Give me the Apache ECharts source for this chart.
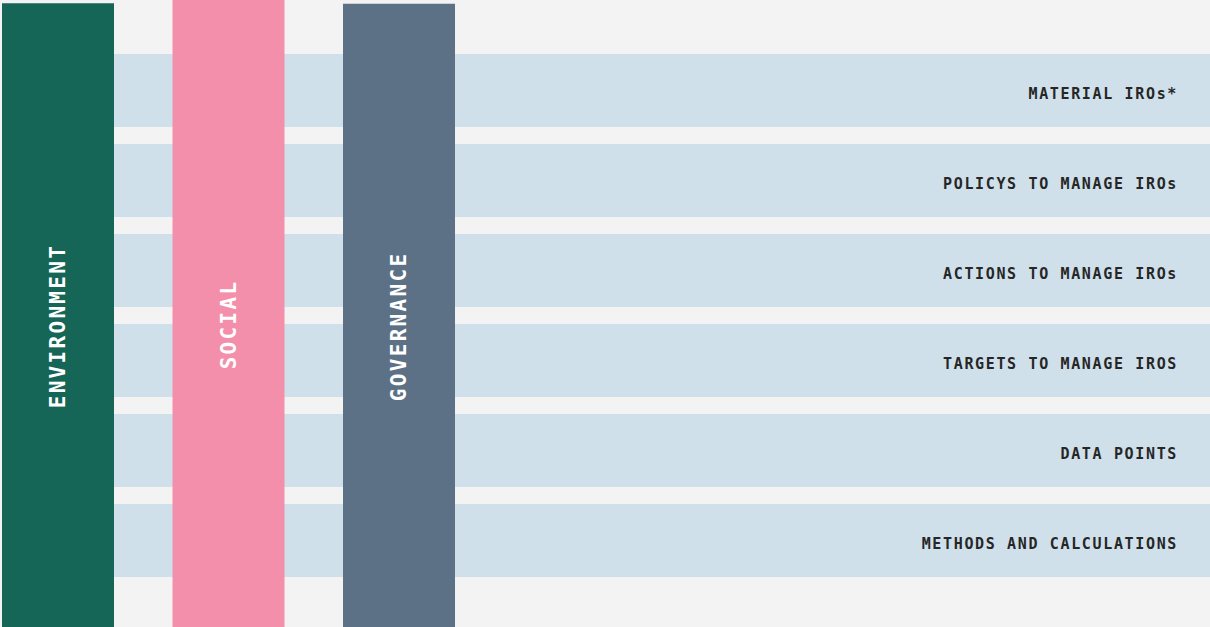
<!DOCTYPE html>
<html>
<head>
<meta charset="utf-8">
<script src="https://cdn.jsdelivr.net/npm/echarts@6/dist/echarts.min.js"></script>
<style>
  html, body { margin: 0; padding: 0; background: #f3f3f3; }
  #chart { width: 1210px; height: 627px; }
  /* wide tracking like the original typeface */
  #chart text { letter-spacing: 0.11em; }
</style>
</head>
<body>
<div id="chart"></div>
<script>
// horizontal rows (top to bottom)
const bandLabels = [
  'MATERIAL IROs*',
  'POLICYS TO MANAGE IROs',
  'ACTIONS TO MANAGE IROs',
  'TARGETS TO MANAGE IROS',
  'DATA POINTS',
  'METHODS AND CALCULATIONS'
];
const bandValues = [1, 1, 1, 1, 1, 1];

// vertical pillars (left to right)
const pillarNames = ['ENVIRONMENT', 'SOCIAL', 'GOVERNANCE'];
const pillarValues = [0.995, 1, 0.994];
const pillarColors = ['#166657', '#f48fab', '#5d7186'];

const mono = '"DejaVu Sans Mono", "Liberation Mono", monospace';

const chart = echarts.init(document.getElementById('chart'), null, {renderer: 'svg'});

chart.setOption({
  backgroundColor: '#f3f3f3',
  animation: false,
  grid: [
    {left: 114, right: 0, top: 45.5, height: 540},
    // pillar centres sit on the ticks (boundaryGap off)
    {left: 58, top: 0, width: 341, height: 627}
  ],
  xAxis: [
    {gridIndex: 0, type: 'value', min: 0, max: 1, show: false},
    {gridIndex: 1, type: 'category', data: pillarNames, boundaryGap: false, show: false}
  ],
  yAxis: [
    {gridIndex: 0, type: 'category', data: bandLabels, inverse: true, show: false},
    {gridIndex: 1, type: 'value', min: 0, max: 1, show: false}
  ],
  series: [
    {
      type: 'bar',
      xAxisIndex: 0,
      yAxisIndex: 0,
      data: bandValues,
      barWidth: 73,
      z: 1,
      itemStyle: {color: '#cfe0ea'},
      label: {
        show: true,
        position: 'insideRight',
        distance: 32,
        offset: [0, 3],
        formatter: '{b}',
        color: '#262626',
        fontFamily: mono,
        fontWeight: 'bold',
        fontSize: 15
      }
    },
    {
      type: 'bar',
      xAxisIndex: 1,
      yAxisIndex: 1,
      data: pillarValues.map((v, i) => ({value: v, itemStyle: {color: pillarColors[i]}})),
      barWidth: 112,
      clip: false,
      z: 3,
      label: {
        show: true,
        position: 'inside',
        rotate: 90,
        offset: [-11, 0],
        formatter: '{b}',
        color: '#ffffff',
        fontFamily: mono,
        fontWeight: 'bold',
        fontSize: 21
      }
    }
  ]
});
</script>
</body>
</html>
